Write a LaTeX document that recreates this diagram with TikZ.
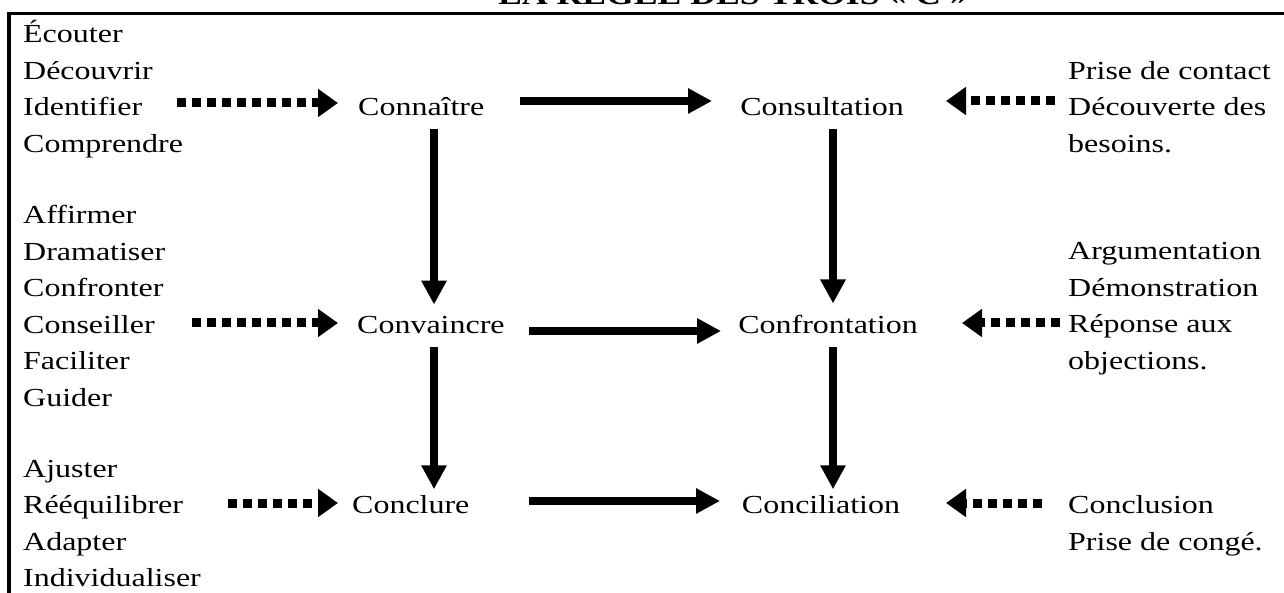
\documentclass[tikz,border=0pt]{standalone}
\usepackage{fontspec}
\setmainfont[FakeStretch=1.23]{Liberation Serif}
\usetikzlibrary{arrows.meta,calc}
\tikzset{
  txt/.style={inner sep=0pt, align=left, font=\fontsize{26}{36.5}\selectfont},
  ctr/.style={inner sep=0pt, font=\fontsize{26}{36.5}\selectfont},
  solidarr/.style={line width=7.5pt, -{Triangle[length=24pt,width=24pt]}},
  dotarr/.style={line width=9pt, dash pattern=on 9pt off 6pt, -{Triangle[length=20pt,width=27pt]}},
  frame/.style={line width=3.5pt}
}
\begin{document}
\begin{tikzpicture}[x=1pt,y=-1pt]
\useasboundingbox (0,0) rectangle (1284,593);
% frame (partially visible)
\draw[frame] (9,700) -- (9,13.5) -- (1300,13.5);
% title (cut at top)
\node[inner sep=0pt, anchor=base, font=\fontsize{29}{32}\selectfont\bfseries] (title) at (733,5) {LA RÈGLE DES TROIS « C »};

% left groups (anchor = baseline of last line)
\node[txt, anchor=base west] (g1) at (23,152.5) {Écouter\\Découvrir\\Identifier\\Comprendre};
\node[txt, anchor=base west] (g2) at (23,406) {Affirmer\\Dramatiser\\Confronter\\Conseiller\\Faciliter\\Guider};
\node[txt, anchor=base west] (g3) at (23,586.5) {Ajuster\\Rééquilibrer\\Adapter\\Individualiser};

% right groups
\node[txt, anchor=base west] (r1) at (1068,152.5) {Prise de contact\\Découverte des\\besoins.};
\node[txt, anchor=base west] (r2) at (1068,369.5) {Argumentation\\Démonstration\\Réponse aux\\objections.};
\node[txt, anchor=base west] (r3) at (1068,550) {Conclusion\\Prise de congé.};

% centre nodes
\node[ctr, anchor=base west] (connaitre) at (358,116) {Connaître};
\node[ctr, anchor=base west] (convaincre) at (357,334) {Convaincre};
\node[ctr, anchor=base west] (conclure) at (352,513.5) {Conclure};
\node[ctr, anchor=base] (consultation) at (822,116) {Consultation};
\node[ctr, anchor=base] (confrontation) at (828,334) {Confrontation};
\node[ctr, anchor=base] (conciliation) at (821,513.5) {Conciliation};

% helper coordinates (rows / columns of connectors)
\coordinate (h1) at (0,101);
\coordinate (h2) at (0,331);
\coordinate (h3) at (0,501);
\coordinate (k1) at (0,103);
\coordinate (k2) at (0,323);
\coordinate (k3) at (0,503);
\coordinate (m1) at (0,101);
\coordinate (m2) at (0,323);
\coordinate (m3) at (0,503);
\coordinate (vL) at (434,0);
\coordinate (vR) at (833,0);

% dotted arrows, left
\draw[dotarr] ($(g1.west |- k1)+(154,0)$) -- ($(connaitre.west |- k1)+(-20,0)$);
\draw[dotarr] ($(g2.west |- k2)+(169,0)$) -- ($(convaincre.west |- k2)+(-19,0)$);
\draw[dotarr] ($(g3.west |- k3)+(205,0)$) -- ($(conclure.west |- k3)+(-14,0)$);
% dotted arrows, right
\draw[dotarr] ($(r1.west |- m1)+(-13,0)$) -- ($(r1.west |- m1)+(-122,0)$);
\draw[dotarr] ($(r2.west |- m2)+(-8,0)$) -- ($(r2.west |- m2)+(-106,0)$);
\draw[dotarr] ($(r3.west |- m3)+(-26,0)$) -- ($(r3.west |- m3)+(-122,0)$);

% solid horizontal arrows
\draw[solidarr] ($(connaitre.west |- h1)+(162,0)$) -- ($(connaitre.west |- h1)+(354,0)$);
\draw[solidarr] ($(convaincre.west |- h2)+(172,0)$) -- ($(convaincre.west |- h2)+(364,0)$);
\draw[solidarr] ($(conclure.west |- h3)+(177,0)$) -- ($(conclure.west |- h3)+(368,0)$);

% solid vertical arrows
\draw[solidarr] ($(connaitre.south -| vL)+(0,13)$) -- ($(convaincre.north -| vL)+(0,-12)$);
\draw[solidarr] ($(convaincre.south -| vL)+(0,13)$) -- ($(conclure.north -| vL)+(0,-6)$);
\draw[solidarr] ($(consultation.south -| vR)+(0,13)$) -- ($(confrontation.north -| vR)+(0,-12)$);
\draw[solidarr] ($(confrontation.south -| vR)+(0,13)$) -- ($(conciliation.north -| vR)+(0,-6)$);
\end{tikzpicture}
\end{document}
